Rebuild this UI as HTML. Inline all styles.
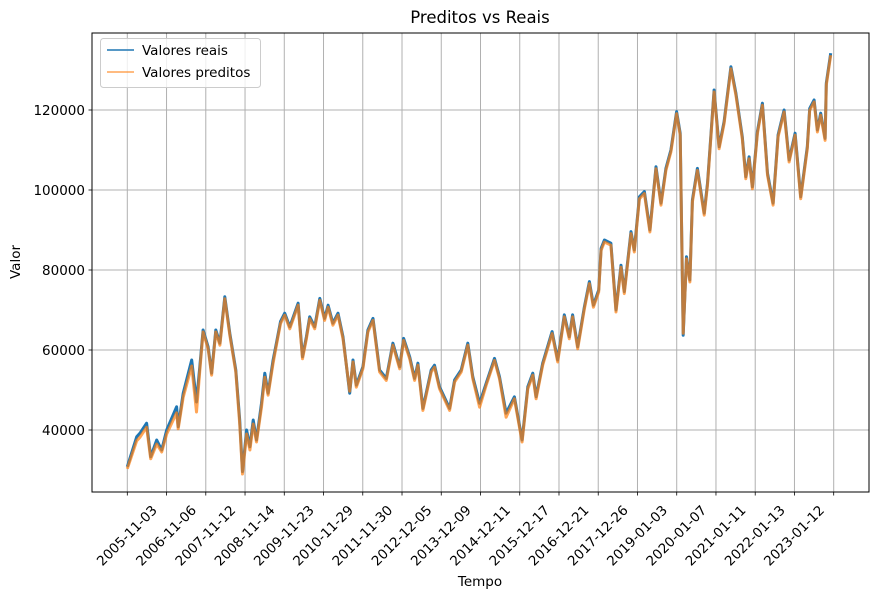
<!DOCTYPE html>
<html><head><meta charset="utf-8"><style>
body{margin:0;background:#fff}
svg{display:block;font-family:"DejaVu Sans","Liberation Sans",sans-serif}
</style></head><body>
<svg id="chart" width="876" height="600" viewBox="0 0 876 600">
<rect x="0" y="0" width="876" height="600" fill="#fff"/>
<text x="480" y="23" font-size="16.5" text-anchor="middle">Preditos vs Reais</text>
<g id="grid"></g><g id="series"></g><g id="axes"></g>
<rect x="92" y="33" width="777" height="459" fill="none" stroke="#000" stroke-width="1"/>
<text x="480" y="586" font-size="13.5" text-anchor="middle">Tempo</text>
<text transform="translate(20,262) rotate(-90)" font-size="13.5" text-anchor="middle">Valor</text>
<g>
<rect x="100.5" y="38.5" width="160" height="49" rx="3" fill="#fff" fill-opacity="0.8" stroke="#ccc"/>
<g><line x1="107" y1="50" x2="134" y2="50" stroke="#1f77b4" stroke-width="1.5"/><text x="142" y="55" font-size="13.5">Valores reais</text></g>
<g><line x1="107" y1="72" x2="134" y2="72" stroke="#ff7f0e" stroke-opacity="0.7" stroke-width="1.5"/><text x="142" y="77" font-size="13.5">Valores preditos</text></g>
</g>
</svg>
<script>
const dayIdx=[0,60,81,123,149,187,219,251,314,324,356,410,441,462,483,515,537,564,590,621,653,691,716,734,760,781,802,823,855,876,897,929,950,976,1003,1035,1088,1116,1141,1162,1194,1226,1257,1279,1310,1342,1374,1417,1438,1459,1501,1533,1565,1607,1650,1692,1735,1760,1799,1830,1851,1883,1936,1957,1989,2053,2085,2127,2169,2201,2244,2286,2339,2371,2413,2466,2515,2551,2583,2604,2646,2706,2742,2784,2816,2837,2869,2912,2944,2969,3003,3018,3039,3081,3113,3145,3166,3209,3230,3262,3294,3329,3368,3400,3431,3463,3499,3522,3541,3562,3584,3600,3632,3675,3696,3738,3770,3802,3845,3877,3918,3940,3961,3982,4014,4046,4078,4114,4146,4184,4216,4254,4290,4332,4347,4375,4396,4417,4445,4453,4481];
const realVals=[30800,38300,39200,41700,33300,37500,35000,40000,45800,40800,49200,57500,47000,55800,65000,60800,54200,65000,61700,73300,64200,55000,42500,29600,40000,35800,42500,37500,46700,54200,49200,57500,61700,67100,69200,65800,71700,58300,63300,68300,65800,72900,67900,71200,66700,69200,63300,49200,57500,51200,55800,65000,67900,55000,52900,61700,55800,62900,58300,52900,56700,45400,55000,56200,50800,45400,52500,55000,61700,53300,46700,51700,57900,53300,44200,48300,37500,50800,54200,48300,56700,64600,57500,68800,63300,68800,60800,70800,77100,71200,75000,85400,87500,86700,70000,81200,74600,89600,85000,98300,99600,90000,105800,96700,105400,110000,119600,114200,63700,83300,77500,97500,105400,94200,101700,125000,110800,117100,130800,124200,113300,103300,108300,100800,114600,121700,104200,96700,113800,120000,107500,114200,98300,110800,120400,122500,115000,119200,112900,126700,134200];
const predVals=[30300,37300,38200,40700,32800,36500,34500,39000,44300,40300,48200,56000,44500,54800,64500,60300,53700,64500,61200,72800,63700,54500,41500,29000,39000,35000,41500,37000,45700,53200,48700,56700,61200,66600,68700,65300,71200,57800,62800,67800,65300,72400,67400,70700,66200,68700,62800,49700,57000,50700,55300,64500,67400,54500,52400,61200,55300,62400,57800,52400,56200,44900,54500,55700,50300,44900,52000,54500,61200,52800,45700,51200,57400,52800,43200,47800,37000,50300,53700,47800,56200,64100,57000,68300,62800,68300,60300,70300,76600,70700,74500,84900,87000,86200,69500,80700,74100,89100,84500,97800,99100,89500,105300,96200,104900,109500,119100,113700,64200,82800,77000,97000,104900,93700,101200,124500,110300,116600,130300,123700,112800,102800,107800,100300,114100,121200,103700,96200,113300,119500,107000,113700,97800,110300,119900,122000,114500,118700,112400,126200,133700];
const yTicks=[40000,60000,80000,100000,120000];
const xTickLabels=["2005-11-03","2006-11-06","2007-11-12","2008-11-14","2009-11-23","2010-11-29","2011-11-30","2012-12-05","2013-12-09","2014-12-11","2015-12-17","2016-12-21","2017-12-26","2019-01-03","2020-01-07","2021-01-11","2022-01-13","2023-01-12",""];
const tickStep=250;

const NS="http://www.w3.org/2000/svg";
const X=i=>127.3+i*(706.4/(18*tickStep));
const Y=v=>430-(v-40000)*0.004;
function mk(tag,attrs,parent){const e=document.createElementNS(NS,tag);for(const k in attrs)e.setAttribute(k,attrs[k]);parent.appendChild(e);return e;}
const grid=document.getElementById('grid'),axes=document.getElementById('axes'),series=document.getElementById('series');
xTickLabels.forEach((lab,k)=>{
  const x=X(k*tickStep);
  const g=mk('line',{x1:x,x2:x,y1:33,y2:492,stroke:'#b0b0b0','stroke-width':1},grid);
  
  
  const t=mk('line',{x1:x,x2:x,y1:492,y2:495.5,stroke:'#000','stroke-width':0.8},axes);
  
  
  if(lab){
    const tx=mk('text',{x:x,y:536,'font-size':13.5,'text-anchor':'middle','dominant-baseline':'central',transform:`rotate(-45 ${x} 536)`},axes);
    tx.textContent=lab;
    
    
  }
});
yTicks.forEach(v=>{
  const y=Y(v);
  const g=mk('line',{x1:92,x2:869,y1:y,y2:y,stroke:'#b0b0b0','stroke-width':1},grid);
  
  
  const t=mk('line',{x1:88.5,x2:92,y1:y,y2:y,stroke:'#000','stroke-width':0.8},axes);
  
  
  const tx=mk('text',{x:85,y:y+5,'font-size':13.5,'text-anchor':'end'},axes);
  tx.textContent=v;
  
  
});
function path(vals){return vals.map((v,i)=>(i?'L':'M')+X(dayIdx[i]).toFixed(1)+','+Y(v).toFixed(1)).join('');}
const pr=mk('path',{d:path(realVals),fill:'none',stroke:'#1f77b4','stroke-width':3,'stroke-linejoin':'round'},series);


const pp=mk('path',{d:path(predVals),fill:'none',stroke:'#ff7f0e','stroke-opacity':0.7,'stroke-width':3,'stroke-linejoin':'round'},series);


</script>
</body></html>
